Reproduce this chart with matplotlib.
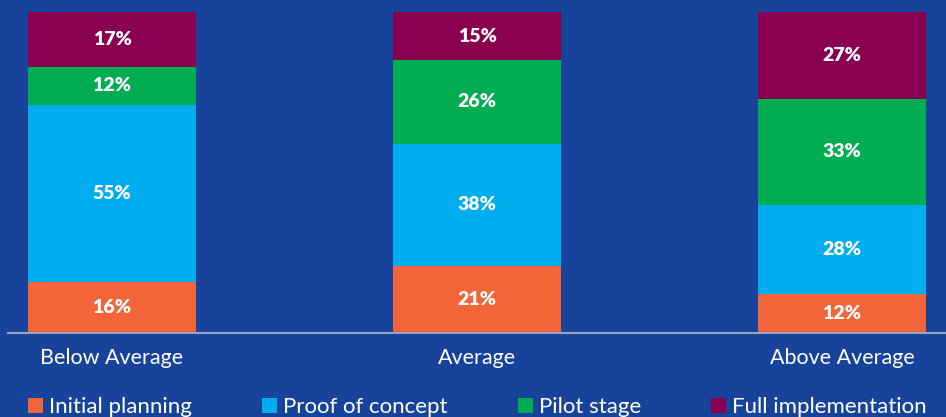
import numpy as np
import matplotlib.pyplot as plt

plt.rcParams['font.family'] = ['Lato', 'DejaVu Sans']

groups = ["Below Average", "Average", "Above Average"]
stages = ["Initial planning", "Proof of concept", "Pilot stage", "Full implementation"]
initial_planning = [16, 21, 12]
proof_of_concept = [55, 38, 28]
pilot_stage = [12, 26, 33]
full_implementation = [17, 15, 27]

colors = ["#f26539", "#00aeef", "#00ad50", "#8a0050"]
bg = "#17449a"

fig = plt.figure(figsize=(9.46, 4.17), dpi=100, facecolor=bg)
ax = fig.add_axes([8 / 946, 84 / 417, 938 / 946, 321 / 417])
ax.set_facecolor(bg)

x = np.arange(len(groups))
bottom = np.zeros(len(groups))
for name, vals, c in zip(stages, [initial_planning, proof_of_concept, pilot_stage, full_implementation], colors):
    bars = ax.bar(x, vals, width=0.46, bottom=bottom, color=c, label=name, linewidth=0)
    for b, v, y0 in zip(bars, vals, bottom):
        ax.text(b.get_x() + b.get_width() / 2, y0 + v / 2, f"{v}%", ha="center", va="center",
                color="white", fontsize=14, fontweight="heavy")
    bottom += vals

ax.set_xlim(-0.285, 2.285)
ax.set_ylim(0, 100)
ax.set_yticks([])
ax.set_xticks(x)
ax.set_xticklabels(groups, color="white", fontsize=15.5)
ax.tick_params(axis="x", length=0, pad=11)
for s in ["top", "right", "left"]:
    ax.spines[s].set_visible(False)
ax.spines["bottom"].set_color("#9aa3bd")
ax.spines["bottom"].set_linewidth(1.5)

leg = fig.legend(loc="center left", bbox_to_anchor=(28 / 946, 10 / 417), ncol=4, frameon=False,
                 fontsize=16, labelcolor="white", handlelength=0.68, handleheight=0.68,
                 handletextpad=0.27, columnspacing=3.15, borderaxespad=0, borderpad=0)

fig.savefig("out.png", dpi=100, facecolor=bg)
